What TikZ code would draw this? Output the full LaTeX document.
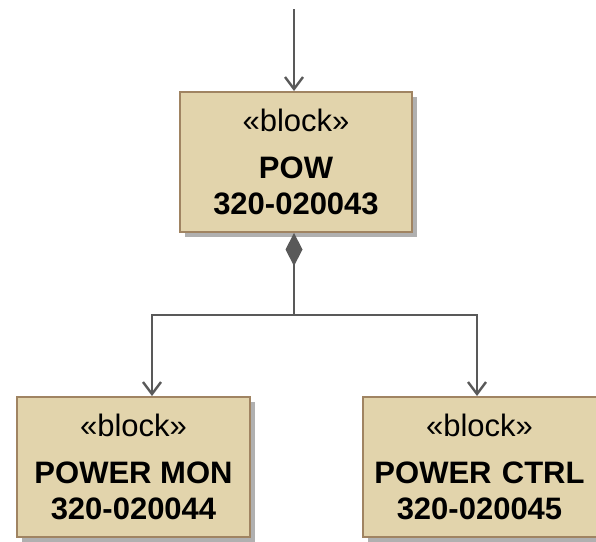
\documentclass[tikz,border=0pt]{standalone}
\usepackage{fontspec}
\setmainfont{Liberation Sans}
\usetikzlibrary{arrows.meta,shadows}
\definecolor{blockfill}{HTML}{E2D4AC}
\definecolor{blockedge}{HTML}{A08462}
\definecolor{linkgrey}{HTML}{595959}
\definecolor{shadowgrey}{HTML}{B0B0B0}
\begin{document}
\begin{tikzpicture}[x=1pt,y=-1pt,
  blockbox/.style={draw=blockedge, line width=2pt, fill=blockfill,
    minimum width=232pt, minimum height=140pt, inner sep=0pt, align=center,
    font=\fontsize{31}{36}\selectfont,
    drop shadow={shadow xshift=5pt, shadow yshift=-5pt, fill=shadowgrey, opacity=1}},
  link/.style={draw=linkgrey, line width=2.4pt},
  opentip/.style={-{Straight Barb[length=12pt,width=18pt]}},
  parttip/.style={{Diamond[length=33pt,width=17pt,fill=linkgrey]}-}
]
\clip (0,0) rectangle (596,541);
\fill[white] (0,0) rectangle (596,541);

% blocks
\node[blockbox] (pow) at (296,162) {«block»\\[11pt]\textbf{POW}\\\textbf{320-020043}};
\node[blockbox, minimum width=233pt] (mon) at (133.5,467) {«block»\\[11pt]\textbf{POWER MON}\\\textbf{320-020044}};
\node[blockbox, minimum width=244pt, text width=233pt, xshift=0pt] (ctrl) at (485,467) {\hspace*{-11pt}\parbox{233pt}{\centering «block»\\[11pt]\textbf{POWER CTRL}\\\textbf{320-020045}}};

% connectors
\coordinate (feed) at (294,9);
\coordinate (split) at (294,315);
\draw[link,opentip] (feed) -- (feed |- pow.north);
\draw[link,parttip] (split |- pow.south) -- (split);
\draw[link,opentip] (split) -| ([xshift=18.5pt]mon.north);
\draw[link,opentip] (split) -| ([xshift=-8pt]ctrl.north);
\end{tikzpicture}
\end{document}
